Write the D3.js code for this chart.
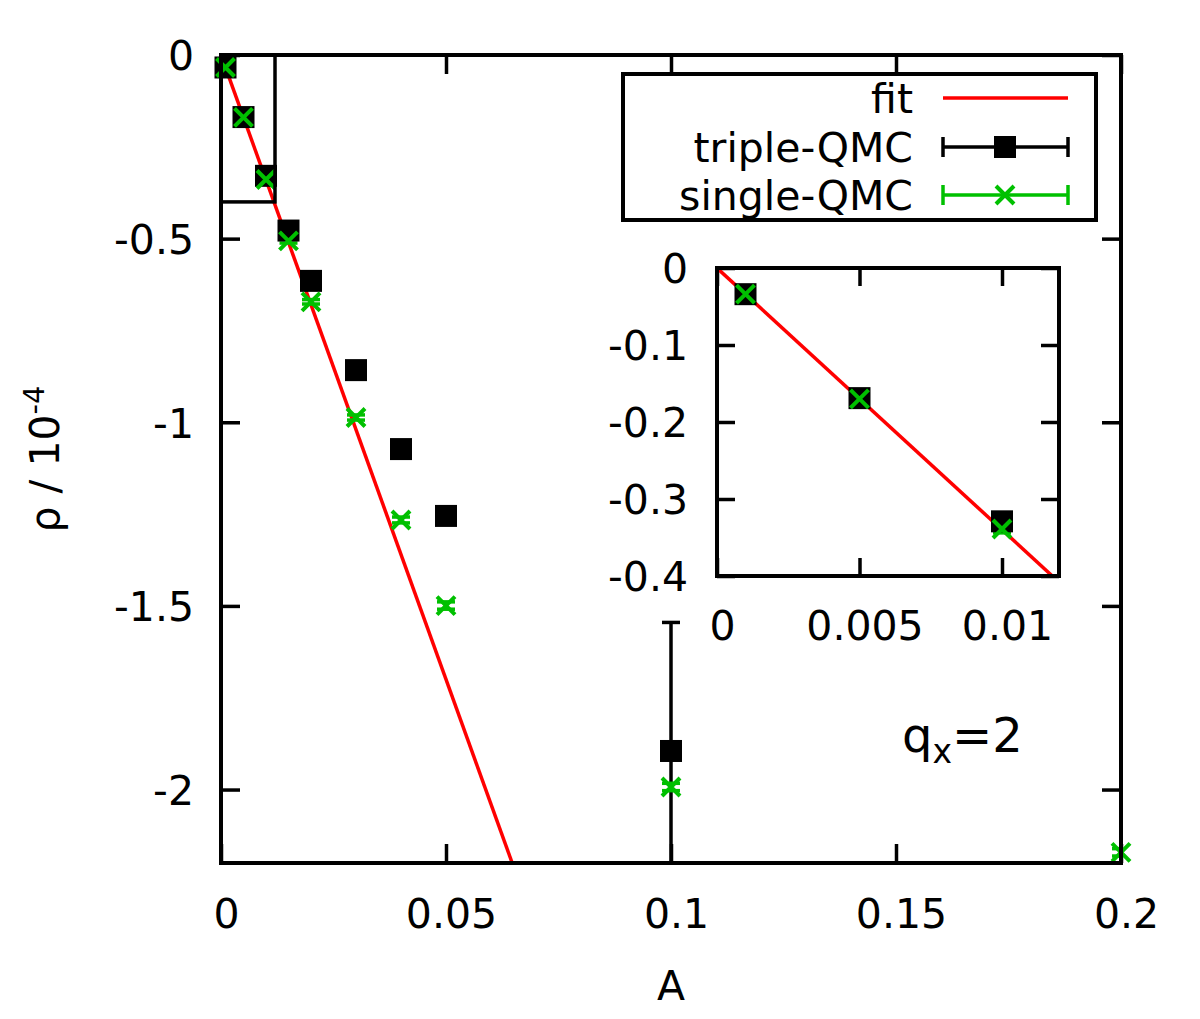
<!DOCTYPE html>
<html lang="en">
<head>
<meta charset="utf-8"/>
<title>rho vs A</title>
<script src="https://d3js.org/d3.v7.min.js"></script>
<style>
  body { margin: 0; background: #fff; }
  svg text { font-family: "DejaVu Sans", sans-serif; fill: #000; }
  .axis .domain { display: none; }
  .axis line { stroke: #000; stroke-width: 3.5px; }
</style>
</head>
<body>
<div id="chart"></div>
<script>
// data
var tripleA   = [0.001, 0.005, 0.01, 0.015, 0.02, 0.03, 0.04, 0.05, 0.1];
var tripleRho = [-0.034, -0.169, -0.329, -0.478, -0.615, -0.858, -1.073, -1.255, -1.895];
var tripleErr = [0.005, 0.005, 0.006, 0.008, 0.01, 0.01, 0.012, 0.015, 0.35];

var singleA   = [0.001, 0.005, 0.01, 0.015, 0.02, 0.03, 0.04, 0.05, 0.1, 0.2];
var singleRho = [-0.034, -0.170, -0.339, -0.506, -0.672, -0.987, -1.266, -1.499, -1.993, -2.171];
var singleErr = [0.004, 0.004, 0.005, 0.006, 0.006, 0.007, 0.008, 0.01, 0.01, 0.01];

var fitSlope = -34.0;

var xTicks = [0, 0.05, 0.1, 0.15, 0.2];
var yTicks = [0, -0.5, -1, -1.5, -2];
var xTicksInset = [0, 0.005, 0.01];
var yTicksInset = [0, -0.1, -0.2, -0.3, -0.4];

var legendLabels = ["fit", "triple-QMC", "single-QMC"];

var width = 1200, height = 1019;
var red = "#ff0000", green = "#00c000";
var fontSize = 41;

var svg = d3.select("#chart").append("svg")
  .attr("width", width)
  .attr("height", height);

var tripleData = tripleA.map(function(a, i) { return {a: a, r: tripleRho[i], e: tripleErr[i]}; });
var singleData = singleA.map(function(a, i) { return {a: a, r: singleRho[i], e: singleErr[i]}; });

// gnuplot style labels: plain hyphen for minus
function fmt(d) { return String(+d.toPrecision(6)); }

// draws a framed panel with mirrored inner ticks
function panel(g, x, y, o) {
  var x0 = x.range()[0], x1 = x.range()[1], y0 = y.range()[0], y1 = y.range()[1];
  g.append("rect")
    .attr("x", x0).attr("y", y1)
    .attr("width", x1 - x0).attr("height", y0 - y1)
    .attr("fill", o.fill || "none");

  var bx = g.append("g").attr("class", "axis")
    .attr("transform", "translate(0," + y0 + ")")
    .call(d3.axisBottom(x).tickValues(o.xt).tickSizeInner(-o.tick).tickSizeOuter(0).tickFormat(fmt));
  bx.selectAll("text").attr("y", o.xLabelY).attr("dy", 0).attr("dx", 5)
    .style("font-size", o.font + "px");

  g.append("g").attr("class", "axis")
    .attr("transform", "translate(0," + y1 + ")")
    .call(d3.axisTop(x).tickValues(o.xt).tickSizeInner(-o.tick).tickSizeOuter(0).tickFormat(""));

  var ly = g.append("g").attr("class", "axis")
    .attr("transform", "translate(" + x0 + ",0)")
    .call(d3.axisLeft(y).tickValues(o.yt).tickSizeInner(-o.tick).tickSizeOuter(0).tickFormat(fmt));
  ly.selectAll("text").attr("x", -o.yLabelX).attr("dy", "0.36em")
    .style("font-size", o.font + "px");

  g.append("g").attr("class", "axis")
    .attr("transform", "translate(" + x1 + ",0)")
    .call(d3.axisRight(y).tickValues(o.yt).tickSizeInner(-o.tick).tickSizeOuter(0).tickFormat(""));

  return g;
}

function drawData(g, x, y, clipId, cap) {
  var clip = g.append("g").attr("clip-path", "url(#" + clipId + ")");

  // fit line
  var xd = x.domain();
  clip.append("line")
    .attr("x1", x(xd[0])).attr("y1", y(fitSlope * xd[0]))
    .attr("x2", x(xd[1])).attr("y2", y(fitSlope * xd[1]))
    .attr("stroke", red).attr("stroke-width", 3.5);

  // error bars
  [[tripleData, "#000"], [singleData, green]].forEach(function(s) {
    var eb = clip.append("g").attr("stroke", s[1]).attr("stroke-width", 3.5)
      .selectAll("g").data(s[0]).enter().append("g");
    eb.append("line")
      .attr("x1", function(d) { return x(d.a); }).attr("x2", function(d) { return x(d.a); })
      .attr("y1", function(d) { return y(d.r + d.e); }).attr("y2", function(d) { return y(d.r - d.e); });
    eb.append("line")
      .attr("x1", function(d) { return x(d.a) - cap; }).attr("x2", function(d) { return x(d.a) + cap; })
      .attr("y1", function(d) { return y(d.r + d.e); }).attr("y2", function(d) { return y(d.r + d.e); });
    eb.append("line")
      .attr("x1", function(d) { return x(d.a) - cap; }).attr("x2", function(d) { return x(d.a) + cap; })
      .attr("y1", function(d) { return y(d.r - d.e); }).attr("y2", function(d) { return y(d.r - d.e); });
  });

  var pts = g.append("g");
  pts.selectAll("rect").data(tripleData.filter(function(d) { return d.a <= xd[1]; }))
    .enter().append("rect")
    .attr("x", function(d) { return x(d.a) - 11; })
    .attr("y", function(d) { return y(d.r) - 11; })
    .attr("width", 22).attr("height", 22)
    .attr("fill", "#000");

  pts.selectAll("path").data(singleData.filter(function(d) { return d.a <= xd[1]; }))
    .enter().append("path")
    .attr("d", function(d) {
      var cx = x(d.a), cy = y(d.r), s = 9;
      return "M" + (cx - s) + "," + (cy - s) + "L" + (cx + s) + "," + (cy + s) +
             "M" + (cx - s) + "," + (cy + s) + "L" + (cx + s) + "," + (cy - s);
    })
    .attr("stroke", green).attr("stroke-width", 4).attr("fill", "none");
}

var defs = svg.append("defs");

// MAIN PLOT
var x = d3.scaleLinear().domain([0, 0.2]).range([221, 1121]);
var y = d3.scaleLinear().domain([-2.2, 0]).range([863, 55]);

defs.append("clipPath").attr("id", "clipMain").append("rect")
  .attr("x", 221).attr("y", 55).attr("width", 900).attr("height", 808);

var main = svg.append("g");
panel(main, x, y, {xt: xTicks, yt: yTicks, tick: 19, font: fontSize, xLabelY: 65, yLabelX: 27});
drawData(main, x, y, "clipMain", 9);

// zoom region box
main.append("rect")
  .attr("x", x(0)).attr("y", y(0))
  .attr("width", x(0.012) - x(0)).attr("height", y(-0.4) - y(0))
  .attr("fill", "none").attr("stroke", "#000").attr("stroke-width", 3.5);

// main frame on top
main.append("rect")
  .attr("x", 221).attr("y", 55).attr("width", 900).attr("height", 808)
  .attr("fill", "none").attr("stroke", "#000").attr("stroke-width", 4);

// axis titles
svg.append("text")
  .attr("x", 671).attr("y", 1000)
  .attr("text-anchor", "middle")
  .style("font-size", fontSize + "px")
  .text("A");

var yl = svg.append("text")
  .attr("transform", "translate(59,459) rotate(-90)")
  .attr("text-anchor", "middle")
  .style("font-size", fontSize + "px");
yl.append("tspan").text("ρ / 10");
yl.append("tspan").attr("dy", -15).style("font-size", "29px").text("-4");

// INSET
var xi = d3.scaleLinear().domain([0, 0.012]).range([717, 1059]);
var yi = d3.scaleLinear().domain([-0.4, 0]).range([576, 268]);

defs.append("clipPath").attr("id", "clipInset").append("rect")
  .attr("x", 717).attr("y", 268).attr("width", 342).attr("height", 308);

var inset = svg.append("g");
panel(inset, xi, yi, {xt: xTicksInset, yt: yTicksInset, tick: 18, font: fontSize, xLabelY: 64, yLabelX: 29, fill: "#fff"});
drawData(inset, xi, yi, "clipInset", 9);
inset.append("rect")
  .attr("x", 717).attr("y", 268).attr("width", 342).attr("height", 308)
  .attr("fill", "none").attr("stroke", "#000").attr("stroke-width", 4);

// LEGEND
var leg = svg.append("g");
leg.append("rect")
  .attr("x", 623).attr("y", 74).attr("width", 473).attr("height", 146)
  .attr("fill", "#fff").attr("stroke", "#000").attr("stroke-width", 4);

var rowY = [98, 147, 195];
legendLabels.forEach(function(lab, i) {
  leg.append("text")
    .attr("x", 913).attr("y", rowY[i]).attr("dy", "0.36em")
    .attr("text-anchor", "end")
    .style("font-size", fontSize + "px")
    .text(lab);
});
leg.append("line")
  .attr("x1", 943).attr("x2", 1068).attr("y1", rowY[0]).attr("y2", rowY[0])
  .attr("stroke", red).attr("stroke-width", 3.5);

[["#000", rowY[1]], [green, rowY[2]]].forEach(function(s, i) {
  var g = leg.append("g").attr("stroke", s[0]).attr("stroke-width", 3.5);
  g.append("line").attr("x1", 943).attr("x2", 1068).attr("y1", s[1]).attr("y2", s[1]);
  g.append("line").attr("x1", 943).attr("x2", 943).attr("y1", s[1] - 10).attr("y2", s[1] + 10);
  g.append("line").attr("x1", 1068).attr("x2", 1068).attr("y1", s[1] - 10).attr("y2", s[1] + 10);
  if (i === 0) {
    leg.append("rect").attr("x", 1005 - 11).attr("y", s[1] - 11)
      .attr("width", 22).attr("height", 22).attr("fill", "#000");
  } else {
    leg.append("path")
      .attr("d", "M996," + (s[1] - 9) + "L1014," + (s[1] + 9) + "M996," + (s[1] + 9) + "L1014," + (s[1] - 9))
      .attr("stroke", green).attr("stroke-width", 4);
  }
});

// q_x label
var q = svg.append("text")
  .attr("x", 902).attr("y", 752)
  .style("font-size", "48px");
q.append("tspan").text("q");
q.append("tspan").attr("dy", 11).style("font-size", "33px").text("x");
q.append("tspan").attr("dy", -11).text("=2");
</script>
</body>
</html>
